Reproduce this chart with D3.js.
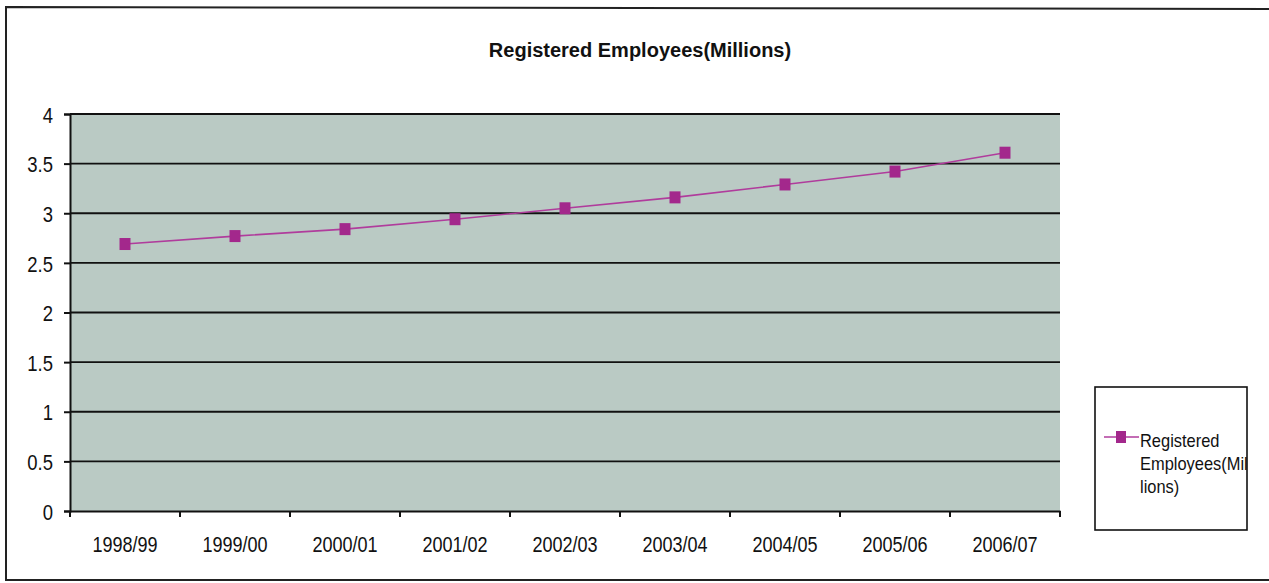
<!DOCTYPE html>
<html><head><meta charset="utf-8">
<script src="https://cdn.jsdelivr.net/npm/d3@7"></script>
<style>body{margin:0;background:#fff}svg{display:block}text{font-family:"Liberation Sans",Arial,sans-serif}</style>
</head><body>
<script>
const categories = ["1998/99","1999/00","2000/01","2001/02","2002/03","2003/04","2004/05","2005/06","2006/07"];
const values = [2.69, 2.77, 2.84, 2.94, 3.05, 3.16, 3.29, 3.42, 3.61];
const yTicks = [0, 0.5, 1, 1.5, 2, 2.5, 3, 3.5, 4];
const title = "Registered Employees(Millions)";
const legendLines = ["Registered", "Employees(Mil", "lions)"];

const W = 1269, H = 583;
const svg = d3.select("body").append("svg").attr("width", W).attr("height", H);

// outer frame
svg.append("path").attr("d", `M1269,9 L6,7 L6,580 L1269,580`).attr("fill","none").attr("stroke","#222").attr("stroke-width",2);

const m = {l:70, r:1060, t:114, b:511};
const x = d3.scaleBand().domain(categories).range([m.l, m.r]);
const y = d3.scaleLinear().domain([0,4]).range([m.b, m.t]);

svg.append("rect").attr("x", m.l).attr("y", m.t).attr("width", m.r-m.l).attr("height", m.b-m.t).attr("fill", "#bacac4");

// gridlines
svg.append("g").selectAll("line").data(yTicks.filter(d=>d>0)).join("line")
  .attr("x1", m.l).attr("x2", m.r).attr("y1", d=>y(d)).attr("y2", d=>y(d))
  .attr("stroke", "#111").attr("stroke-width", 1.8);

// y axis
const ya = svg.append("g").attr("transform", `translate(${m.l},0)`)
  .call(d3.axisLeft(y).tickValues(yTicks).tickFormat(d3.format("")).tickSize(6).tickPadding(11));
ya.select(".domain").attr("stroke","#111").attr("stroke-width",2);
ya.selectAll(".tick line").attr("stroke","#111").attr("stroke-width",2);
ya.selectAll("text").attr("font-size", 21.5).attr("fill","#111")
  .attr("x", 0).attr("dy", "0.38em").attr("transform", "translate(-17,0) scale(0.86,1)");

// x axis
const xa = svg.append("g").attr("transform", `translate(0,${m.b})`)
  .call(d3.axisBottom(x).tickSize(0).tickPadding(26));
xa.select(".domain").attr("stroke","#111").attr("stroke-width",2);
xa.selectAll("text").attr("font-size", 21.5).attr("fill","#111").attr("transform", "scale(0.84,1)");
svg.append("g").selectAll("line").data(d3.range(categories.length+1)).join("line")
  .attr("x1", i => m.l + i*x.step()).attr("x2", i => m.l + i*x.step())
  .attr("y1", m.b).attr("y2", m.b+6).attr("stroke","#111").attr("stroke-width",2);

// line
const lineColor = "#b03c9c", markColor = "#a3288c";
svg.append("path").datum(values)
  .attr("d", d3.line().x((d,i)=>x(categories[i])+x.bandwidth()/2).y(d=>y(d)))
  .attr("fill","none").attr("stroke", lineColor).attr("stroke-width", 1.6);
svg.append("g").selectAll("rect").data(values).join("rect")
  .attr("x", (d,i)=>x(categories[i])+x.bandwidth()/2-5.5).attr("y", d=>y(d)-6)
  .attr("width", 11).attr("height", 12).attr("fill", markColor);

// title
svg.append("text").attr("x", 640).attr("y", 57).attr("text-anchor","middle")
  .attr("font-size", 20).attr("font-weight","bold").attr("fill","#111").text(title);

// legend
svg.append("rect").attr("x", 1095).attr("y", 387).attr("width", 152).attr("height", 143)
  .attr("fill","#fff").attr("stroke","#111").attr("stroke-width",1.6);
svg.append("line").attr("x1", 1104).attr("x2", 1139).attr("y1", 437).attr("y2", 437).attr("stroke", lineColor).attr("stroke-width",1.6);
svg.append("rect").attr("x", 1116).attr("y", 431).attr("width", 10).attr("height", 12).attr("fill", markColor);
const lt = svg.append("g");
legendLines.forEach((s,i)=>{
  lt.append("text").attr("transform", `translate(1140,${447 + i*23}) scale(0.94,1)`)
    .attr("font-size", 17.5).attr("fill","#111").text(s);
});
</script>
</body></html>
